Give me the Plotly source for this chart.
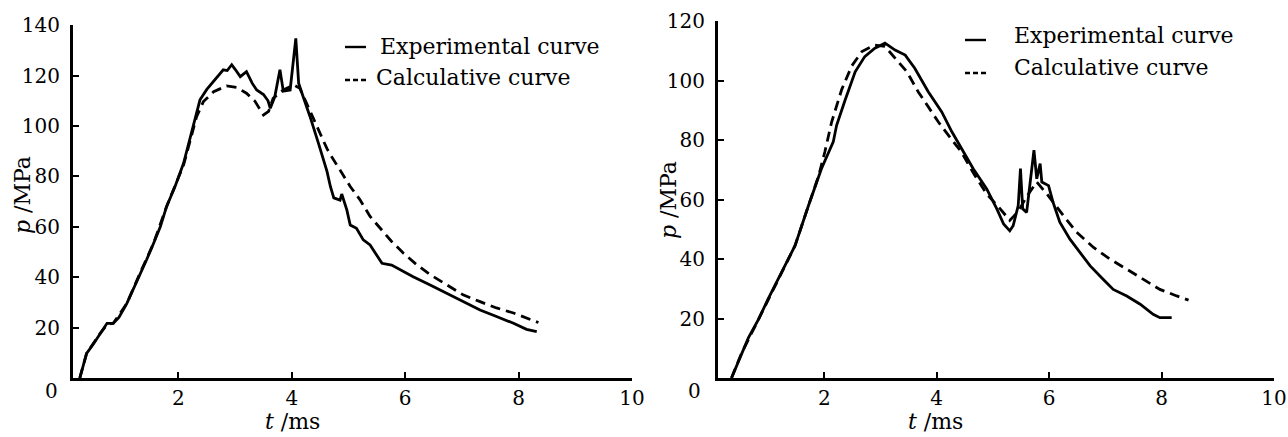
import plotly.graph_objects as go

# ---- Left panel data (t in ms, p in MPa) ----
left_exp_t = [0.26, 0.30, 0.38, 0.50, 0.62, 0.74, 0.85, 0.95, 1.09, 1.20, 1.32, 1.44, 1.56, 1.68, 1.79, 1.94,
              2.09, 2.26, 2.38, 2.50, 2.62, 2.70, 2.79, 2.86, 2.94, 3.00, 3.09, 3.20, 3.30, 3.38, 3.50, 3.58,
              3.62, 3.70, 3.79, 3.85, 3.97, 4.07, 4.12, 4.20, 4.32, 4.47, 4.62, 4.68, 4.74, 4.85, 4.88, 4.97,
              5.03, 5.14, 5.26, 5.38, 5.47, 5.59, 5.76, 5.91, 6.14, 6.44, 6.73, 7.02, 7.32, 7.61, 7.91, 8.14, 8.32]
left_exp_p = [0.0, 3.0, 9.8, 13.5, 17.7, 21.7, 21.7, 24.0, 29.6, 35.0, 41.5, 47.0, 53.4, 60.0, 68.0, 76.0,
              85.2, 99.7, 110.4, 114.5, 117.6, 120.0, 122.3, 122.0, 124.3, 122.5, 119.6, 121.6, 117.0, 114.3, 112.5, 110.0,
              107.0, 111.7, 122.3, 113.8, 114.3, 134.8, 117.0, 111.6, 103.8, 93.1, 82.0, 76.0, 71.5, 70.6, 73.0, 66.7,
              60.7, 59.4, 54.8, 52.8, 49.5, 45.5, 44.8, 42.9, 40.2, 36.9, 33.6, 30.3, 27.0, 24.4, 21.7, 19.3, 18.4]

left_calc_t = [0.26, 0.38, 0.62, 0.74, 0.85, 1.09, 1.32, 1.56, 1.79, 2.09, 2.32, 2.44, 2.62, 2.85, 3.03, 3.20,
               3.35, 3.50, 3.59, 3.67, 3.85, 4.03, 4.14, 4.26, 4.44, 4.62, 4.67, 4.79, 4.85, 5.03, 5.20, 5.38,
               5.56, 5.76, 5.97, 6.20, 6.44, 6.73, 7.02, 7.32, 7.61, 7.91, 8.20, 8.35]
left_calc_p = [0.0, 9.8, 17.7, 21.2, 21.7, 29.6, 41.5, 53.4, 68.0, 84.5, 103.7, 109.7, 113.6, 115.9, 115.3, 113.0,
               109.8, 104.4, 105.8, 111.0, 114.3, 116.3, 115.0, 109.0, 99.7, 91.0, 89.0, 85.0, 82.5, 76.0, 70.8, 64.1,
               59.5, 54.2, 49.5, 45.0, 41.0, 36.9, 33.0, 30.3, 27.8, 25.8, 23.1, 22.0]

# ---- Right panel data ----
right_exp_t = [0.35, 0.53, 0.65, 0.83, 1.00, 1.24, 1.48, 1.72, 1.95, 2.16, 2.22, 2.37, 2.55, 2.72, 2.90, 3.08,
               3.26, 3.44, 3.61, 3.85, 4.09, 4.27, 4.44, 4.65, 4.89, 5.07, 5.19, 5.30, 5.36, 5.45, 5.49, 5.53,
               5.60, 5.66, 5.73, 5.78, 5.84, 5.87, 5.99, 6.07, 6.19, 6.37, 6.55, 6.73, 6.96, 7.14, 7.38, 7.62,
               7.85, 7.97, 8.18]
right_exp_p = [0.0, 8.4, 13.5, 19.7, 26.5, 35.5, 44.5, 58.0, 70.4, 79.4, 85.0, 93.4, 103.0, 108.1, 110.9, 112.6,
               110.3, 108.6, 104.2, 96.3, 89.5, 82.8, 77.1, 70.4, 63.6, 56.9, 51.8, 49.5, 51.2, 58.0, 70.4, 56.9,
               55.7, 65.9, 76.6, 67.0, 72.1, 65.9, 64.7, 59.1, 52.4, 46.7, 42.2, 37.7, 33.2, 29.8, 27.6, 24.8,
               21.4, 20.3, 20.3]

right_calc_t = [0.35, 0.53, 0.83, 1.24, 1.48, 1.72, 1.90, 2.01, 2.13, 2.31, 2.49, 2.67, 2.90, 3.08, 3.26, 3.47,
                3.67, 3.85, 4.03, 4.21, 4.44, 4.65, 4.89, 5.13, 5.30, 5.45, 5.60, 5.78, 5.96, 6.28, 6.49, 6.79,
                7.08, 7.38, 7.68, 7.97, 8.27, 8.48]
right_calc_p = [0.0, 8.4, 19.7, 35.5, 44.5, 58.0, 68.0, 76.0, 86.0, 97.0, 105.0, 109.8, 112.0, 111.5, 107.5, 103.0,
                96.3, 91.2, 86.1, 81.6, 76.0, 69.0, 61.9, 56.9, 53.0, 56.0, 61.0, 65.9, 61.9, 54.0, 49.0, 43.9,
                40.0, 36.6, 33.2, 29.8, 27.6, 26.2]

x_ticks = [2, 4, 6, 8, 10]
left_y_ticks = [20, 40, 60, 80, 100, 120, 140]
right_y_ticks = [20, 40, 60, 80, 100, 120]
legend_labels = ["Experimental curve", "Calculative curve"]

FONT = "DejaVu Serif"
W, H = 1288, 437

fig = go.Figure()
line_w = 2.8
dash = "10px,6px"
fig.add_trace(go.Scatter(x=left_exp_t, y=left_exp_p, mode="lines", xaxis="x", yaxis="y",
                         line=dict(color="black", width=line_w), showlegend=False, hoverinfo="skip"))
fig.add_trace(go.Scatter(x=left_calc_t, y=left_calc_p, mode="lines", xaxis="x", yaxis="y",
                         line=dict(color="black", width=line_w, dash=dash), showlegend=False, hoverinfo="skip"))
fig.add_trace(go.Scatter(x=right_exp_t, y=right_exp_p, mode="lines", xaxis="x2", yaxis="y2",
                         line=dict(color="black", width=line_w), showlegend=False, hoverinfo="skip"))
fig.add_trace(go.Scatter(x=right_calc_t, y=right_calc_p, mode="lines", xaxis="x2", yaxis="y2",
                         line=dict(color="black", width=line_w, dash=dash), showlegend=False, hoverinfo="skip"))

tickfont = dict(family=FONT, size=20, color="black")
common_axis = dict(showline=True, linecolor="black", linewidth=3, ticks="inside", ticklen=6,
                   tickwidth=2, tickcolor="black", showgrid=False, zeroline=False, tickfont=tickfont,
                   automargin=False)

fig.update_layout(
    width=W, height=H, margin=dict(l=0, r=0, t=0, b=0),
    paper_bgcolor="white", plot_bgcolor="white",
    xaxis=dict(domain=[73 / W, 632 / W], range=[0.14, 10], tickvals=x_ticks, anchor="y", **common_axis),
    yaxis=dict(domain=[59 / H, (H - 25.2) / H], range=[0, 140], tickvals=left_y_ticks, anchor="x",
               ticklabelstandoff=6, **common_axis),
    xaxis2=dict(domain=[718 / W, 1274 / W], range=[0.11, 10], tickvals=x_ticks, anchor="y2", **common_axis),
    yaxis2=dict(domain=[59 / H, (H - 21.2) / H], range=[0, 120], tickvals=right_y_ticks, anchor="x2",
                ticklabelstandoff=6, **common_axis),
)

lab = dict(family=FONT, size=22, color="black")
annots = [
    # axis titles
    dict(x=22 / W, y=1 - 195 / H, text="<i>p</i> /MPa", textangle=-90, font=lab),
    dict(x=668 / W, y=1 - 200 / H, text="<i>p</i> /MPa", textangle=-90, font=lab),
    dict(x=292 / W, y=1 - 421 / H, text="<i>t</i> /ms", font=lab),
    dict(x=935 / W, y=1 - 421 / H, text="<i>t</i> /ms", font=lab),
    # origin labels
    dict(x=51 / W, y=1 - 391 / H, text="0", font=tickfont),
    dict(x=694 / W, y=1 - 391 / H, text="0", font=tickfont),
    # legend texts
    dict(x=378 / W, y=1 - 46 / H, text=legend_labels[0], font=lab, xanchor="left"),
    dict(x=374 / W, y=1 - 78 / H, text=legend_labels[1], font=lab, xanchor="left"),
    dict(x=1012 / W, y=1 - 36 / H, text=legend_labels[0], font=lab, xanchor="left"),
    dict(x=1012 / W, y=1 - 68 / H, text=legend_labels[1], font=lab, xanchor="left"),
]
for a in annots:
    a.setdefault("xanchor", "center")
    a.update(xref="paper", yref="paper", yanchor="middle", showarrow=False)
fig.update_layout(annotations=annots)

# legend samples
samples = [
    (345, 366, 47, "solid"), (345, 368, 80, "5px,3px"),
    (965, 986, 40, "solid"), (965, 986, 73, "5px,3px"),
]
shapes = []
for x0, x1, yy, d in samples:
    shapes.append(dict(type="line", xref="paper", yref="paper", x0=x0 / W, x1=x1 / W,
                       y0=1 - yy / H, y1=1 - yy / H, line=dict(color="black", width=2.4, dash=d)))
fig.update_layout(shapes=shapes)

fig.write_html("out.html", config={"displayModeBar": False},
               post_script="document.body.style.margin='0';document.body.style.overflow='hidden';")
